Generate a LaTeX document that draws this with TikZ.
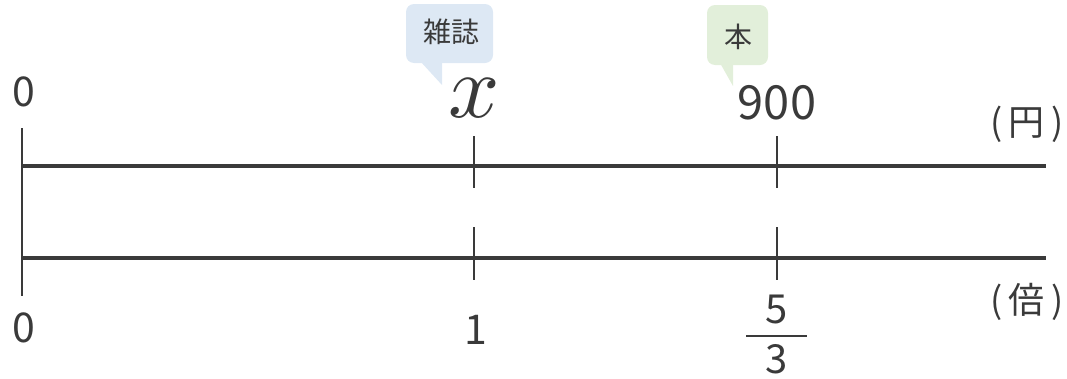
\documentclass[tikz,border=0pt]{standalone}
\usepackage{fontspec}
\setmainfont{Noto Sans CJK JP}
\usetikzlibrary{positioning}
\definecolor{ink}{HTML}{3A3A3A}
\definecolor{bluetag}{HTML}{DDE8F4}
\definecolor{greentag}{HTML}{E2EFDA}

\begin{document}
\begin{tikzpicture}[x=1pt, y=-1pt,
    axis/.style={ink, line width=3.6pt},
    tick/.style={ink, line width=1.8pt},
    num/.style={ink, inner sep=0pt, font=\fontsize{41}{41}\selectfont},
    bignum/.style={num, font=\fontsize{47}{47}\selectfont},
    frac_num/.style={num, font=\fontsize{40}{40}\selectfont},
    unit/.style={ink, inner sep=0pt, font=\fontsize{36}{36}\selectfont},
    tag_label/.style={ink, inner sep=0pt, font=\fontsize{28}{28}\selectfont}
]
    \useasboundingbox (0,0) rectangle (1067,378);
    % Zahlenstrahlen
    \coordinate (top_start) at (22,166);
    \coordinate (top_end) at (1046,166);
    \coordinate (bot_start) at (22,258);
    \coordinate (bot_end) at (1046,258);
    \draw[axis] (top_start) -- (top_end);
    \draw[axis] (bot_start) -- (bot_end);
    \draw[tick, line width=2.4pt] (22,128) -- (22,296);
    % Striche
    \draw[tick] (474,136) -- (474,188);
    \draw[tick] (474,227) -- (474,280);
    \draw[tick] (777,136) -- (777,188);
    \draw[tick] (777,227) -- (777,280);
    % Sprechblasen
    \fill[bluetag, rounded corners=8pt] (406,4) rectangle (493,63);
    \fill[bluetag] (420,61) -- (442,61) -- (442,85) -- cycle;
    \node[tag_label] (magazine) at (451,32) {雑誌};
    \fill[greentag, rounded corners=8pt] (707,5) rectangle (768,65);
    \fill[greentag] (720,63) -- (733,63) -- (733,86) -- cycle;
    \node[tag_label] (book) at (738,37) {本};
    % Werte oben
    \node[num] (zero_top) at (24,92) {0};
    \node[ink, inner sep=0pt] (unknown) at (474,98) {\scalebox{9}{$x$}};
    \node[bignum] (price) at (777,103) {900};
    \node[unit] (yen) at (1027,124) {(\,円\,)};
    % Werte unten
    \node[num] (zero_bot) at (24,328) {0};
    \node[num] (one) at (476,330) {1};
    \node[frac_num] (five) at (777,309) {5};
    \node[frac_num] (three) at (777,359) {3};
    \draw[ink, line width=1.8pt] (746,336) -- (807,336);
    \node[unit] (times) at (1027,302) {(\,倍\,)};
\end{tikzpicture}
\end{document}
